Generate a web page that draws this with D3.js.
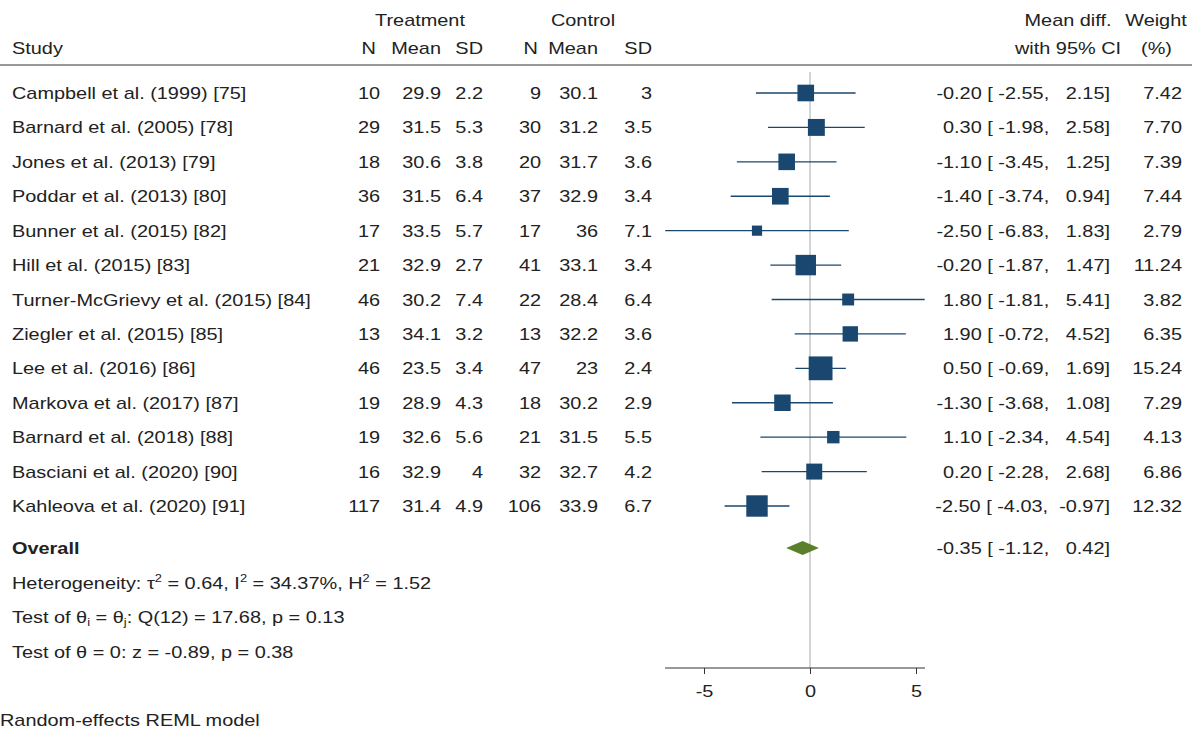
<!DOCTYPE html>
<html><head><meta charset="utf-8">
<script src="https://d3js.org/d3.v7.min.js"></script>
<style>body{margin:0;background:#fff}text{font-family:"Liberation Sans",Arial,sans-serif;font-size:17px;fill:#222}</style>
</head><body><svg id="c" width="1192" height="732"></svg>
<script>
const studies = ["Campbell et al. (1999) [75]","Barnard et al. (2005) [78]","Jones et al. (2013) [79]","Poddar et al. (2013) [80]","Bunner et al. (2015) [82]","Hill et al. (2015) [83]","Turner-McGrievy et al. (2015) [84]","Ziegler et al. (2015) [85]","Lee et al. (2016) [86]","Markova et al. (2017) [87]","Barnard et al. (2018) [88]","Basciani et al. (2020) [90]","Kahleova et al. (2020) [91]"];
const tN = [10,29,18,36,17,21,46,13,46,19,19,16,117];
const tMean = ["29.9","31.5","30.6","31.5","33.5","32.9","30.2","34.1","23.5","28.9","32.6","32.9","31.4"];
const tSD = ["2.2","5.3","3.8","6.4","5.7","2.7","7.4","3.2","3.4","4.3","5.6","4","4.9"];
const cN = [9,30,20,37,17,41,22,13,47,18,21,32,106];
const cMean = ["30.1","31.2","31.7","32.9","36","33.1","28.4","32.2","23","30.2","31.5","32.7","33.9"];
const cSD = ["3","3.5","3.6","3.4","7.1","3.4","6.4","3.6","2.4","2.9","5.5","4.2","6.7"];
const md = [-0.20,0.30,-1.10,-1.40,-2.50,-0.20,1.80,1.90,0.50,-1.30,1.10,0.20,-2.50];
const lo = [-2.55,-1.98,-3.45,-3.74,-6.83,-1.87,-1.81,-0.72,-0.69,-3.68,-2.34,-2.28,-4.03];
const hi = [2.15,2.58,1.25,0.94,1.83,1.47,5.41,4.52,1.69,1.08,4.54,2.68,-0.97];
const weight = [7.42,7.70,7.39,7.44,2.79,11.24,3.82,6.35,15.24,7.29,4.13,6.86,12.32];
const overall = {md:-0.35, lo:-1.12, hi:0.42};
const ticks = [-5,0,5];

const svg = d3.select("#c");
const x = d3.scaleLinear().domain([-5,5]).range([704,916]);
const y = d3.scaleLinear().domain([0,12]).range([93,506]);
const fmt = v => d3.format(".2f")(v).replace("−","-");
const blue = "#1a476f";
const SX = 1.17;

// text is stretched horizontally to match the wide face of the original
function t(xp, yp, s, anchor="start"){
  return svg.append("text").attr("transform",`translate(${xp},${yp + 6}) scale(${SX},1)`)
    .attr("text-anchor",anchor).style("white-space","pre").text(s);
}
// headers
t(420,20,"Treatment","middle"); t(583,20,"Control","middle");
t(1068,20,"Mean diff.","middle"); t(1156,20,"Weight","middle");
t(12,48,"Study"); t(376,48,"N","end"); t(441,48,"Mean","end"); t(483,48,"SD","end");
t(538,48,"N","end"); t(598,48,"Mean","end"); t(652,48,"SD","end");
t(1068,48,"with 95% CI","middle"); t(1172,48,"(%)","end");
svg.append("line").attr("x1",0).attr("x2",1192).attr("y1",65).attr("y2",65).attr("stroke","#333").attr("stroke-width",1);

// zero line
svg.append("line").attr("x1",x(0)).attr("x2",x(0)).attr("y1",72).attr("y2",668).attr("stroke","#aaa");

const ci = d => `${fmt(d.md).padStart(5," ")} [ ${fmt(d.lo)},  ${fmt(d.hi).padStart(5," ")}]`;
studies.forEach((s,i)=>{
  const yy = y(i);
  t(12,yy,s); t(380,yy,tN[i],"end"); t(441,yy,tMean[i],"end"); t(483,yy,tSD[i],"end");
  t(541,yy,cN[i],"end"); t(598,yy,cMean[i],"end"); t(652,yy,cSD[i],"end");
  t(1110,yy,ci({md:md[i],lo:lo[i],hi:hi[i]}),"end");
  t(1182,yy,fmt(weight[i]),"end");
  svg.append("line").attr("x1",x(lo[i])).attr("x2",x(hi[i])).attr("y1",yy).attr("y2",yy).attr("stroke",blue).attr("stroke-width",1.3);
  const sz = 6.1*Math.sqrt(weight[i]);
  svg.append("rect").attr("x",x(md[i])-sz/2).attr("y",yy-sz/2).attr("width",sz).attr("height",sz).attr("fill",blue);
});
// overall
const oy = 548;
t(12,oy,"Overall").style("font-weight","bold");
svg.append("path").attr("d",`M${x(overall.lo)},${oy}L${x(overall.md)},${oy-7}L${x(overall.hi)},${oy}L${x(overall.md)},${oy+7}Z`).attr("fill","#5b7f2b");
t(1110,oy,ci(overall),"end");

function shifted(sel, s, dy){
  sel.append("tspan").attr("dy",dy).style("font-size","11px").text(s);
}
const h = t(12,583,"");
h.append("tspan").text("Heterogeneity: τ");
shifted(h,"2",-7); h.append("tspan").attr("dy",7).text(" = 0.64, I");
shifted(h,"2",-7); h.append("tspan").attr("dy",7).text(" = 34.37%, H");
shifted(h,"2",-7); h.append("tspan").attr("dy",7).text(" = 1.52");
const q = t(12,617,"");
q.append("tspan").text("Test of θ");
shifted(q,"i",3); q.append("tspan").attr("dy",-3).text(" = θ");
shifted(q,"j",3); q.append("tspan").attr("dy",-3).text(": Q(12) = 17.68, p = 0.13");
t(12,652,"Test of θ = 0: z = -0.89, p = 0.38");

// axis
const ax = svg.append("g").attr("transform","translate(0,668)");
ax.call(d3.axisBottom(x).tickValues(ticks).tickSize(6).tickSizeOuter(0).tickFormat(d => String(d)));
ax.select(".domain").attr("d",`M665,0H925`).attr("stroke","#333");
ax.selectAll(".tick line").attr("stroke","#333");
ax.selectAll(".tick text").attr("dy","1.2em").attr("transform",`scale(${SX},1)`).style("font-size","17px").attr("fill","#222").style("font-family","Liberation Sans, Arial, sans-serif");

t(0,720,"Random-effects REML model");
</script></body></html>
